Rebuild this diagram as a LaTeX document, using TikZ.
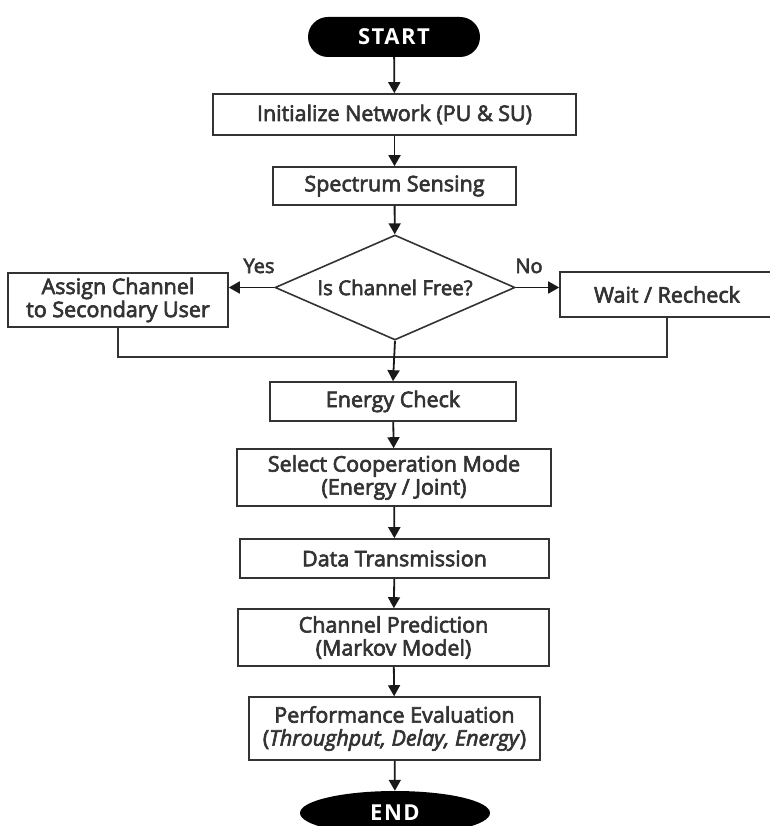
\documentclass[tikz,border=0pt]{standalone}
\usepackage{fontspec}
\setmainfont{Open Sans}[FakeBold=3]
\newfontfamily\termfont{Open Sans}[LetterSpace=7]
\usetikzlibrary{arrows.meta,shapes.geometric}
\begin{document}
\begin{tikzpicture}[x=1pt,y=-1pt,
  box/.style={draw=black!80,line width=1.6pt,fill=white,inner sep=2pt,align=center,font=\fontsize{21.5}{23}\selectfont,text=black!80},
  term/.style={fill=black,text=white,font=\termfont\bfseries\fontsize{22}{22}\selectfont,inner sep=0pt},
  arr/.style={line width=1.8pt,draw=black!90,-{Triangle[length=11pt,width=12pt]}},
  lbl/.style={font=\fontsize{20}{22}\selectfont,text=black!80,inner sep=0pt}]
\useasboundingbox (0,0) rectangle (769,826);
\node[term,rounded corners=20pt,minimum width=172pt,minimum height=40pt] (start) at (394,37) {START};
\node[box,minimum width=363pt,minimum height=41pt] (init) at (394.5,114.5) {Initialize Network (PU \& SU)};
\node[box,minimum width=243pt,minimum height=38pt] (sense) at (394.5,186) {Spectrum Sensing};
\node[box,diamond,inner sep=0pt,minimum width=240pt,minimum height=105pt,aspect=2.28,font=\fontsize{20.5}{22}\selectfont] (dec) at (395,287.5) {Is Channel Free?};
\node[box,minimum width=220pt,minimum height=54pt] (assign) at (118,300) {Assign Channel\\to Secondary User};
\node[box,minimum width=214pt,minimum height=45pt] (wait) at (667,294.5) {Wait / Recheck};
\node[box,minimum width=246pt,minimum height=39pt] (energy) at (393,401.5) {Energy Check};
\node[box,minimum width=314pt,minimum height=57pt] (coop) at (394,477.5) {Select Cooperation Mode\\(Energy / Joint)};
\node[box,minimum width=309pt,minimum height=39pt] (data) at (394.5,558.5) {Data Transmission};
\node[box,minimum width=311pt,minimum height=57pt] (pred) at (393.5,637.5) {Channel Prediction\\(Markov Model)};
\node[box,minimum width=291pt,minimum height=63pt] (perf) at (394.5,728.5) {Performance Evaluation\\(\textit{Throughput, Delay, Energy})};
\node[term,ellipse,minimum width=190pt,minimum height=44pt] (end) at (395,813) {END};
\node[lbl] (yes) at (259,266) {Yes};
\node[lbl] (no) at (529,266) {No};
\coordinate (m) at (394,357);
\draw[arr] (start) -- (init);
\draw[arr] (init) -- (sense);
\draw[arr] (sense) -- (dec);
\draw[arr] (dec.west) -- (assign.east|-dec.west);
\draw[arr] (dec.east) -- (wait.west|-dec.east);
\draw[line width=1.6pt,black!80] (assign.south) |- (m) -| (wait.south);
\draw[arr] (dec.south) -- (energy.north);
\draw[arr] (energy) -- (coop);
\draw[arr] (coop) -- (data);
\draw[arr] (data) -- (pred);
\draw[arr] (pred) -- (perf);
\draw[arr] (perf) -- (end);
\end{tikzpicture}
\end{document}
